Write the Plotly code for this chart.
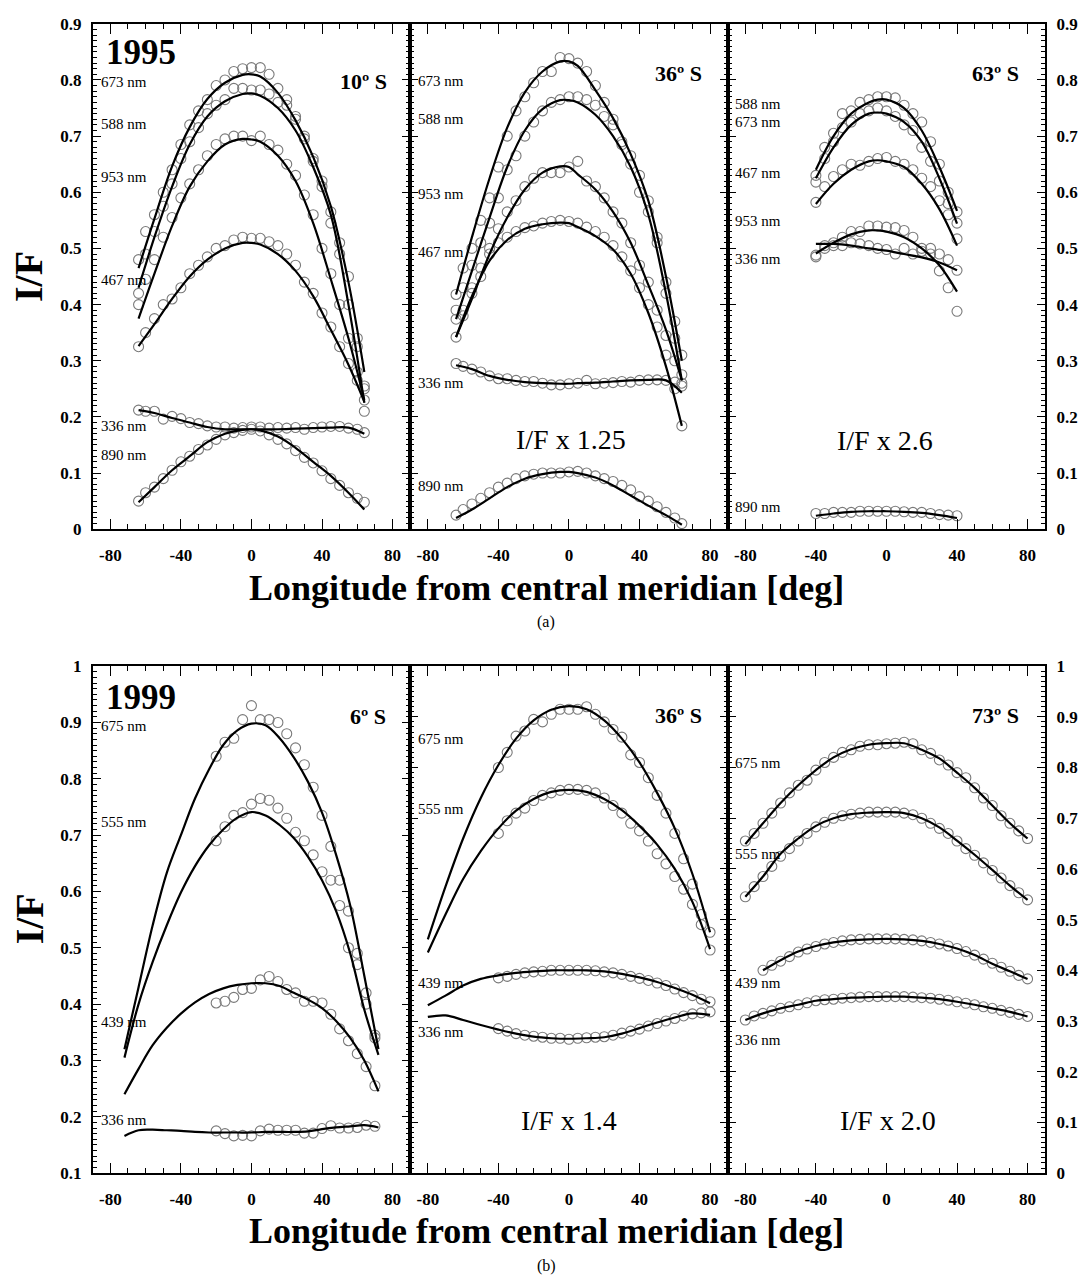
import plotly.graph_objects as go

W, H = 1086, 1288

# ================= (a) 1995 =================
# ---- panel 10º S ----
A1_CIRC_LON = [-64,-60,-55,-50,-45,-40,-35,-30,-25,-20,-15,-10,-5,0,5,10,15,20,25,30,35,40,45,50,55,60,64]
A1_CURV_LON = [-64,-55,-45,-35,-25,-15,-5,0,5,15,25,35,45,55,64]
A1_673_C = [0.48,0.53,0.56,0.60,0.64,0.685,0.72,0.745,0.765,0.79,0.80,0.815,0.82,0.822,0.822,0.81,0.785,0.765,0.735,0.70,0.66,0.62,0.565,0.51,0.45,0.34,0.21]
A1_588_C = [0.42,0.49,0.53,0.575,0.615,0.66,0.69,0.715,0.74,0.755,0.765,0.785,0.785,0.782,0.782,0.775,0.76,0.755,0.73,0.695,0.655,0.61,0.545,0.49,0.40,0.325,0.23]
A1_953_C = [0.40,0.445,0.48,0.52,0.555,0.59,0.615,0.64,0.665,0.685,0.695,0.70,0.70,0.692,0.70,0.685,0.675,0.65,0.63,0.595,0.56,0.50,0.455,0.40,0.34,0.28,0.255]
A1_467_C = [0.325,0.35,0.375,0.40,0.41,0.43,0.455,0.47,0.485,0.50,0.505,0.515,0.52,0.518,0.518,0.512,0.505,0.49,0.47,0.44,0.42,0.385,0.36,0.325,0.295,0.265,0.25]
A1_336_C = [0.212,0.21,0.21,0.196,0.201,0.197,0.19,0.188,0.184,0.182,0.182,0.18,0.181,0.182,0.182,0.18,0.181,0.18,0.181,0.178,0.181,0.182,0.183,0.183,0.18,0.178,0.172]
A1_890_C = [0.05,0.065,0.075,0.09,0.105,0.12,0.13,0.142,0.15,0.16,0.168,0.172,0.176,0.178,0.175,0.168,0.16,0.152,0.14,0.128,0.118,0.104,0.09,0.078,0.065,0.055,0.048]
A1_673_K = [0.465,0.553,0.646,0.716,0.766,0.795,0.809,0.81,0.806,0.777,0.728,0.663,0.575,0.44,0.28]
A1_588_K = [0.43,0.52,0.61,0.685,0.735,0.762,0.775,0.776,0.772,0.75,0.71,0.645,0.56,0.40,0.225]
A1_953_K = [0.375,0.455,0.54,0.61,0.655,0.685,0.695,0.694,0.69,0.665,0.62,0.545,0.445,0.34,0.23]
A1_467_K = [0.326,0.365,0.41,0.45,0.48,0.5,0.51,0.51,0.507,0.49,0.46,0.415,0.355,0.293,0.227]
A1_336_K = [0.212,0.207,0.198,0.19,0.182,0.178,0.178,0.178,0.178,0.178,0.179,0.18,0.181,0.181,0.17]
A1_890_K = [0.048,0.075,0.105,0.13,0.155,0.17,0.177,0.178,0.176,0.165,0.145,0.12,0.095,0.065,0.035]

# ---- panel 36º S ----
A2_CIRC_LON = A1_CIRC_LON
A2_CURV_LON = A1_CURV_LON
A2_673_C = [0.418,0.465,0.50,0.55,0.59,0.645,0.70,0.745,0.77,0.795,0.815,0.815,0.84,0.838,0.83,0.815,0.79,0.76,0.73,0.69,0.665,0.63,0.585,0.52,0.44,0.37,0.31]
A2_588_C = [0.39,0.43,0.47,0.51,0.545,0.59,0.64,0.665,0.70,0.725,0.745,0.76,0.765,0.77,0.77,0.765,0.755,0.735,0.72,0.685,0.65,0.60,0.565,0.51,0.42,0.34,0.275]
A2_953_C = [0.374,0.39,0.42,0.465,0.50,0.535,0.565,0.585,0.61,0.625,0.635,0.635,0.635,0.645,0.655,0.62,0.61,0.59,0.565,0.545,0.51,0.47,0.44,0.39,0.345,0.30,0.26]
A2_467_C = [0.342,0.38,0.43,0.45,0.49,0.51,0.52,0.53,0.537,0.54,0.545,0.548,0.55,0.548,0.545,0.538,0.53,0.52,0.505,0.485,0.46,0.43,0.40,0.36,0.31,0.25,0.184]
A2_336_C = [0.295,0.29,0.285,0.28,0.273,0.268,0.268,0.265,0.263,0.263,0.26,0.257,0.257,0.259,0.26,0.265,0.259,0.26,0.261,0.263,0.262,0.265,0.266,0.266,0.265,0.262,0.255]
A2_890_C = [0.025,0.035,0.045,0.055,0.065,0.075,0.082,0.09,0.095,0.098,0.1,0.1,0.1,0.102,0.103,0.1,0.095,0.09,0.085,0.078,0.07,0.058,0.05,0.04,0.03,0.02,0.01]
A2_673_K = [0.418,0.52,0.625,0.715,0.778,0.815,0.833,0.833,0.825,0.782,0.732,0.668,0.585,0.45,0.30]
A2_588_K = [0.374,0.46,0.555,0.645,0.71,0.748,0.764,0.764,0.76,0.738,0.70,0.645,0.56,0.42,0.265]
A2_953_K = [0.342,0.41,0.49,0.555,0.605,0.635,0.646,0.645,0.632,0.605,0.565,0.51,0.435,0.355,0.265]
A2_467_K = [0.342,0.415,0.478,0.515,0.535,0.543,0.546,0.545,0.538,0.522,0.498,0.455,0.385,0.29,0.184]
A2_336_K = [0.292,0.285,0.273,0.266,0.262,0.26,0.259,0.259,0.26,0.261,0.263,0.265,0.266,0.265,0.243]
A2_890_K = [0.02,0.035,0.055,0.075,0.09,0.098,0.102,0.102,0.1,0.092,0.078,0.06,0.042,0.025,0.008]

# ---- panel 63º S ----
A3_CIRC_LON = [-40,-35,-30,-25,-20,-15,-10,-5,0,5,10,15,20,25,30,35,40]
A3_CURV_LON = [-40,-30,-20,-10,-5,0,10,20,30,40]
A3_588_C = [0.63,0.68,0.705,0.74,0.745,0.76,0.765,0.77,0.77,0.768,0.755,0.74,0.725,0.69,0.65,0.6,0.565]
A3_673_C = [0.618,0.66,0.69,0.715,0.725,0.74,0.745,0.75,0.745,0.735,0.72,0.71,0.68,0.655,0.62,0.58,0.545]
A3_467_C = [0.582,0.61,0.628,0.64,0.65,0.648,0.655,0.66,0.662,0.655,0.65,0.64,0.625,0.61,0.585,0.56,0.517]
A3_953_C = [0.488,0.505,0.51,0.52,0.53,0.53,0.54,0.54,0.538,0.537,0.532,0.52,0.5,0.5,0.46,0.43,0.388]
A3_336_C = [0.485,0.5,0.505,0.505,0.51,0.508,0.505,0.5,0.498,0.49,0.5,0.49,0.495,0.49,0.49,0.48,0.461]
A3_890_C = [0.028,0.028,0.03,0.03,0.03,0.032,0.032,0.032,0.032,0.032,0.031,0.03,0.03,0.028,0.026,0.025,0.024]
A3_588_K = [0.64,0.70,0.74,0.76,0.765,0.765,0.75,0.71,0.645,0.567]
A3_673_K = [0.625,0.68,0.72,0.74,0.742,0.74,0.725,0.69,0.625,0.544]
A3_467_K = [0.579,0.615,0.64,0.655,0.657,0.655,0.645,0.615,0.57,0.505]
A3_953_K = [0.491,0.51,0.525,0.532,0.532,0.53,0.52,0.5,0.47,0.423]
A3_336_K = [0.508,0.508,0.505,0.5,0.498,0.496,0.49,0.484,0.475,0.461]
A3_890_K = [0.024,0.028,0.031,0.032,0.032,0.032,0.031,0.029,0.025,0.02]

# ================= (b) 1999 =================
# ---- panel 6º S ----
B1_CIRC_LON = [-20,-15,-10,-5,0,5,10,15,20,25,30,35,40,45,50,55,60,65,70]
B1_CURV_LON = [-72,-64,-56,-48,-40,-32,-24,-16,-8,0,8,16,24,32,40,48,56,64,72]
B1_675_C = [0.84,0.865,0.872,0.905,0.93,0.905,0.905,0.90,0.88,0.855,0.825,0.785,0.735,0.68,0.62,0.565,0.49,0.42,0.345]
B1_555_C = [0.69,0.715,0.735,0.74,0.755,0.765,0.762,0.748,0.73,0.705,0.69,0.665,0.635,0.62,0.575,0.50,0.47,0.40,0.34]
B1_439_C = [0.402,0.405,0.412,0.426,0.428,0.443,0.449,0.44,0.426,0.42,0.405,0.405,0.402,0.382,0.356,0.335,0.312,0.289,0.255]
B1_336_C = [0.175,0.17,0.166,0.167,0.166,0.175,0.178,0.176,0.176,0.176,0.171,0.171,0.179,0.184,0.18,0.18,0.181,0.185,0.183]
B1_675_K = [0.32,0.43,0.54,0.633,0.70,0.765,0.817,0.86,0.886,0.898,0.895,0.872,0.838,0.795,0.74,0.665,0.575,0.45,0.32]
B1_555_K = [0.305,0.40,0.475,0.54,0.598,0.645,0.682,0.71,0.731,0.741,0.735,0.718,0.695,0.662,0.62,0.565,0.49,0.39,0.31]
B1_439_K = [0.24,0.285,0.327,0.358,0.383,0.403,0.418,0.428,0.434,0.437,0.437,0.432,0.42,0.408,0.393,0.37,0.34,0.3,0.245]
B1_336_K = [0.166,0.176,0.177,0.176,0.175,0.173,0.172,0.172,0.172,0.172,0.173,0.173,0.173,0.174,0.178,0.181,0.183,0.185,0.181]

# ---- panel 36º S ----
B2_CIRC_LON = [-40,-35,-30,-25,-20,-15,-10,-5,0,5,10,15,20,25,30,35,40,45,50,55,60,65,70,75,80]
B2_CURV_LON = [-80,-70,-60,-50,-40,-30,-20,-10,0,10,20,30,40,50,60,70,80]
B2_675_C = [0.80,0.83,0.862,0.872,0.895,0.89,0.905,0.915,0.915,0.915,0.92,0.905,0.89,0.875,0.86,0.825,0.81,0.78,0.745,0.71,0.67,0.62,0.57,0.51,0.475]
B2_555_C = [0.67,0.695,0.71,0.72,0.735,0.745,0.75,0.755,0.757,0.757,0.755,0.75,0.74,0.725,0.71,0.69,0.675,0.655,0.63,0.61,0.585,0.56,0.53,0.49,0.44]
B2_439_C = [0.385,0.388,0.392,0.395,0.397,0.398,0.40,0.40,0.40,0.40,0.40,0.399,0.397,0.395,0.392,0.388,0.384,0.38,0.375,0.37,0.363,0.356,0.35,0.343,0.338]
B2_336_C = [0.285,0.28,0.275,0.272,0.27,0.268,0.266,0.266,0.264,0.266,0.267,0.268,0.269,0.272,0.276,0.28,0.284,0.29,0.295,0.30,0.305,0.31,0.314,0.316,0.318]
B2_675_K = [0.461,0.565,0.66,0.74,0.805,0.857,0.893,0.914,0.921,0.915,0.893,0.857,0.81,0.75,0.68,0.59,0.475]
B2_555_K = [0.435,0.51,0.58,0.635,0.68,0.715,0.738,0.752,0.756,0.752,0.738,0.716,0.685,0.648,0.60,0.535,0.442]
B2_439_K = [0.331,0.35,0.37,0.383,0.39,0.395,0.398,0.40,0.40,0.40,0.398,0.393,0.386,0.377,0.365,0.352,0.335]
B2_336_K = [0.308,0.311,0.302,0.292,0.283,0.275,0.269,0.266,0.265,0.266,0.268,0.275,0.286,0.297,0.307,0.315,0.312]

# ---- panel 73º S ----
B3_CIRC_LON = [-80,-75,-70,-65,-60,-55,-50,-45,-40,-35,-30,-25,-20,-15,-10,-5,0,5,10,15,20,25,30,35,40,45,50,55,60,65,70,75,80]
B3_439_CIRC_LON = B3_CIRC_LON[2:]
B3_CURV_LON = [-80,-70,-60,-50,-40,-30,-20,-10,0,10,20,30,40,50,60,70,80]
B3_439_CURV_LON = [-70,-60,-50,-40,-30,-20,-10,0,10,20,30,40,50,60,70,80]
B3_675_C = [0.655,0.67,0.69,0.71,0.73,0.75,0.765,0.775,0.795,0.81,0.82,0.83,0.835,0.842,0.845,0.845,0.847,0.848,0.85,0.847,0.835,0.828,0.815,0.805,0.79,0.78,0.76,0.74,0.725,0.705,0.69,0.675,0.66]
B3_555_C = [0.545,0.565,0.585,0.605,0.625,0.64,0.655,0.67,0.683,0.692,0.70,0.705,0.708,0.71,0.712,0.712,0.712,0.712,0.71,0.707,0.70,0.69,0.68,0.67,0.655,0.64,0.627,0.612,0.597,0.582,0.567,0.553,0.539]
B3_439_C = [0.40,0.41,0.418,0.427,0.436,0.442,0.447,0.452,0.455,0.458,0.46,0.461,0.462,0.462,0.462,0.462,0.461,0.46,0.458,0.455,0.452,0.448,0.443,0.437,0.43,0.422,0.414,0.406,0.398,0.39,0.383]
B3_336_C = [0.302,0.31,0.315,0.32,0.325,0.328,0.332,0.336,0.34,0.342,0.343,0.345,0.346,0.347,0.348,0.348,0.348,0.348,0.348,0.347,0.346,0.345,0.343,0.341,0.338,0.335,0.332,0.328,0.325,0.321,0.317,0.313,0.309]
B3_675_K = [0.649,0.69,0.73,0.765,0.795,0.82,0.836,0.845,0.848,0.848,0.835,0.818,0.79,0.76,0.725,0.69,0.66]
B3_555_K = [0.545,0.585,0.63,0.66,0.685,0.70,0.708,0.711,0.712,0.71,0.70,0.682,0.656,0.628,0.598,0.567,0.539]
B3_439_K = [0.40,0.42,0.437,0.448,0.455,0.459,0.461,0.462,0.461,0.458,0.452,0.443,0.43,0.413,0.398,0.383]
B3_336_K = [0.302,0.315,0.325,0.332,0.34,0.343,0.346,0.347,0.348,0.348,0.346,0.343,0.338,0.332,0.325,0.318,0.309]

# ---- text content ----
PANEL_TITLES = ["10º S", "36º S", "63º S", "6º S", "36º S", "73º S"]
YEARS = ["1995", "1999"]
SCALE_NOTES = {2: "I/F x 1.25", 3: "I/F x 2.6", 5: "I/F x 1.4", 6: "I/F x 2.0"}
# wavelength labels: (panel, text, y value at label)
WL_LABELS = [
    (1, "673 nm", 0.797), (1, "588 nm", 0.721), (1, "953 nm", 0.628), (1, "467 nm", 0.444),
    (1, "336 nm", 0.184), (1, "890 nm", 0.132),
    (2, "673 nm", 0.798), (2, "588 nm", 0.730), (2, "953 nm", 0.596), (2, "467 nm", 0.494),
    (2, "336 nm", 0.261), (2, "890 nm", 0.077),
    (3, "588 nm", 0.757), (3, "673 nm", 0.725), (3, "467 nm", 0.635), (3, "953 nm", 0.549),
    (3, "336 nm", 0.481), (3, "890 nm", 0.040),
    (4, "675 nm", 0.893), (4, "555 nm", 0.723), (4, "439 nm", 0.368), (4, "336 nm", 0.195),
    (5, "675 nm", 0.857), (5, "555 nm", 0.718), (5, "439 nm", 0.375), (5, "336 nm", 0.278),
    (6, "675 nm", 0.808), (6, "555 nm", 0.630), (6, "439 nm", 0.375), (6, "336 nm", 0.263),
]

PANELS = {
    1: [(A1_CIRC_LON, c, A1_CURV_LON, k) for c, k in
        [(A1_673_C, A1_673_K), (A1_588_C, A1_588_K), (A1_953_C, A1_953_K),
         (A1_467_C, A1_467_K), (A1_336_C, A1_336_K), (A1_890_C, A1_890_K)]],
    2: [(A2_CIRC_LON, c, A2_CURV_LON, k) for c, k in
        [(A2_673_C, A2_673_K), (A2_588_C, A2_588_K), (A2_953_C, A2_953_K),
         (A2_467_C, A2_467_K), (A2_336_C, A2_336_K), (A2_890_C, A2_890_K)]],
    3: [(A3_CIRC_LON, c, A3_CURV_LON, k) for c, k in
        [(A3_588_C, A3_588_K), (A3_673_C, A3_673_K), (A3_467_C, A3_467_K),
         (A3_953_C, A3_953_K), (A3_336_C, A3_336_K), (A3_890_C, A3_890_K)]],
    4: [(B1_CIRC_LON, c, B1_CURV_LON, k) for c, k in
        [(B1_675_C, B1_675_K), (B1_555_C, B1_555_K), (B1_439_C, B1_439_K), (B1_336_C, B1_336_K)]],
    5: [(B2_CIRC_LON, c, B2_CURV_LON, k) for c, k in
        [(B2_675_C, B2_675_K), (B2_555_C, B2_555_K), (B2_439_C, B2_439_K), (B2_336_C, B2_336_K)]],
    6: [(B3_CIRC_LON, B3_675_C, B3_CURV_LON, B3_675_K),
        (B3_CIRC_LON, B3_555_C, B3_CURV_LON, B3_555_K),
        (B3_439_CIRC_LON, B3_439_C, B3_439_CURV_LON, B3_439_K),
        (B3_CIRC_LON, B3_336_C, B3_CURV_LON, B3_336_K)],
}

# ---- layout geometry (pixels) ----
XDOM = [(92.7, 410.2), (410.2, 727.7), (727.7, 1045.2)]
YDOM = [(15, 528), (667, 1181.5)]
YRANGE = {1: [0, 0.9], 2: [0, 0.9], 3: [0, 0.9], 4: [0.1, 1.0], 5: [0, 1.0], 6: [0, 1.0]}

SERIF = "Liberation Serif"
TICKFONT = dict(family=SERIF, size=17, color="black", weight="bold")

def ax(n, letter):
    return letter if n == 1 else f"{letter}{n}"

fig = go.Figure()
for n, series in PANELS.items():
    for clon, cval, klon, kval in series:
        fig.add_trace(go.Scatter(
            x=clon, y=cval, mode="markers", xaxis=ax(n, "x"), yaxis=ax(n, "y"),
            marker=dict(symbol="circle-open", size=10, color="#7a7a7a", line=dict(width=1.1)),
            showlegend=False, hoverinfo="skip"))
    for clon, cval, klon, kval in series:
        fig.add_trace(go.Scatter(
            x=klon, y=kval, mode="lines", xaxis=ax(n, "x"), yaxis=ax(n, "y"),
            line=dict(color="black", width=2.2, shape="spline", smoothing=1.0),
            showlegend=False, hoverinfo="skip"))

layout = dict(
    width=W, height=H, autosize=False,
    margin=dict(l=0, r=0, t=0, b=0, pad=0),
    paper_bgcolor="white", plot_bgcolor="white",
    showlegend=False,
)

for n in range(1, 7):
    row, col = divmod(n - 1, 3)
    xd = XDOM[col]
    yd = YDOM[row]
    layout["xaxis" if n == 1 else f"xaxis{n}"] = dict(
        domain=[xd[0] / W, xd[1] / W], range=[-90, 90], anchor=ax(n, "y"),
        tickmode="array", tickvals=[-80, -40, 0, 40, 80], ticktext=["-80", "-40", "0", "40", "80"],
        ticks="inside", ticklen=10, tickwidth=1.2, tickcolor="black",
        minor=dict(dtick=10, tick0=0, ticks="inside", ticklen=5, tickwidth=1, tickcolor="black"),
        showline=True, linecolor="black", linewidth=1.6, mirror="allticks",
        showgrid=False, zeroline=False, tickfont=TICKFONT, ticklabelstandoff=10,
    )
    yax = dict(
        domain=[1 - yd[1] / H, 1 - yd[0] / H], range=YRANGE[n], anchor=ax(n, "x"),
        tick0=0, dtick=0.1, ticks="inside", ticklen=8, tickwidth=1.2, tickcolor="black",
        minor=dict(dtick=0.01, tick0=0, ticks="inside", ticklen=4, tickwidth=0.8, tickcolor="black"),
        showline=True, linecolor="black", linewidth=1.6, mirror="allticks",
        showgrid=False, zeroline=False, tickfont=TICKFONT, ticklabelstandoff=6,
        showticklabels=(col != 1),
    )
    if col == 2:
        yax["side"] = "right"
    layout["yaxis" if n == 1 else f"yaxis{n}"] = yax

anns = []
# wavelength labels
LABEL_X = {0: 99, 1: 416, 2: 733}
for n, txt, yv in WL_LABELS:
    col = (n - 1) % 3
    anns.append(dict(x=LABEL_X[col] / W, xref="paper", y=yv, yref=ax(n, "y"),
                     text=txt, showarrow=False, xanchor="left", yanchor="middle",
                     font=dict(family=SERIF, size=15, color="black")))
# panel latitude titles (right aligned)
TITLE_POS = [(389, 74), (704, 65), (1021, 65), (388, 718), (704, 717), (1021, 717)]
for txt, (px, py) in zip(PANEL_TITLES, TITLE_POS):
    anns.append(dict(x=px / W, y=1 - py / H, xref="paper", yref="paper", text=txt, showarrow=False,
                     xanchor="right", yanchor="middle",
                     font=dict(family=SERIF, size=22, color="black", weight="bold")))
# years
for txt, py in zip(YEARS, [44, 699]):
    anns.append(dict(x=104 / W, y=1 - py / H, xref="paper", yref="paper", text=txt, showarrow=False,
                     xanchor="left", yanchor="middle",
                     font=dict(family=SERIF, size=35, color="black", weight="bold")))
# scale notes
NOTE_POS = {2: (571, 437), 3: (885, 438), 5: (569, 1128), 6: (888, 1128)}
for n, txt in SCALE_NOTES.items():
    px, py = NOTE_POS[n]
    anns.append(dict(x=px / W, y=1 - py / H, xref="paper", yref="paper", text=txt, showarrow=False,
                     xanchor="center", yanchor="middle",
                     font=dict(family=SERIF, size=28, color="black")))
# axis titles
for py in [272, 924]:
    anns.append(dict(x=29 / W, y=1 - py / H, xref="paper", yref="paper", text="I/F", showarrow=False,
                     textangle=-90, xanchor="center", yanchor="middle",
                     font=dict(family=SERIF, size=40, color="black", weight="bold")))
for py in [588, 1240]:
    anns.append(dict(x=546 / W, y=1 - py / H, xref="paper", yref="paper",
                     text="Longitude from central meridian [deg]", showarrow=False,
                     xanchor="center", yanchor="middle",
                     font=dict(family=SERIF, size=36, color="black", weight="bold")))
for txt, py in [("(a)", 622), ("(b)", 1276)]:
    anns.append(dict(x=546 / W, y=1 - py / H, xref="paper", yref="paper", text=txt, showarrow=False,
                     xanchor="center", yanchor="middle",
                     font=dict(family=SERIF, size=16, color="black")))

layout["annotations"] = anns
fig.update_layout(**layout)
fig.write_html("out.html")
